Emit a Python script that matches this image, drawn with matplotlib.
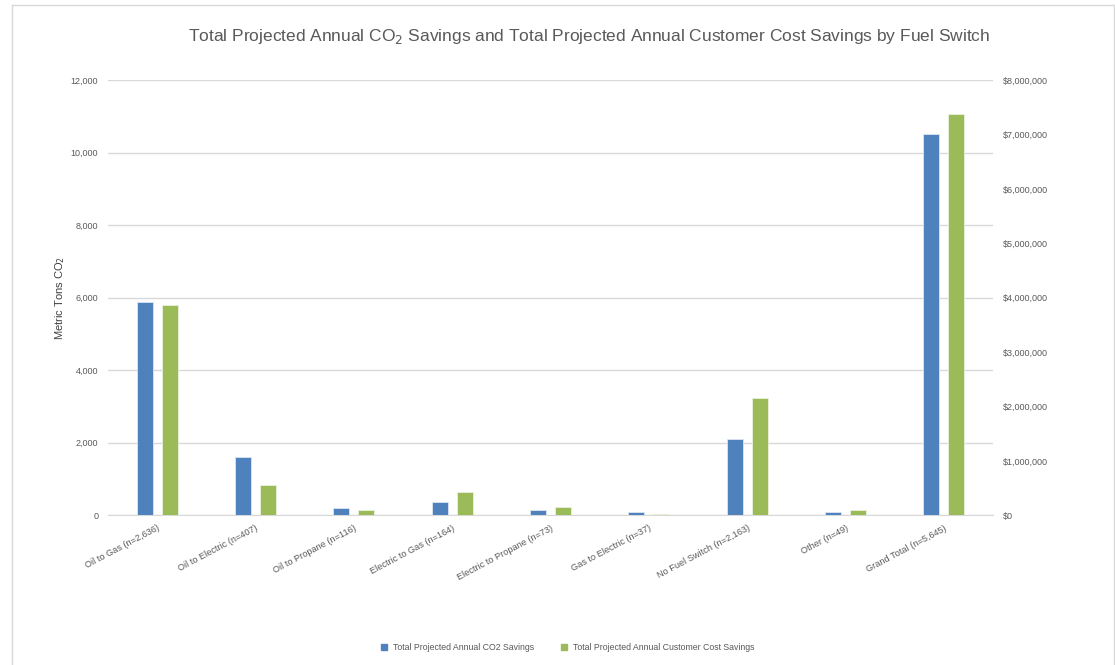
import numpy as np
import matplotlib.pyplot as plt
from matplotlib.lines import Line2D
from matplotlib.ticker import FuncFormatter

categories = [
    "Oil to Gas (n=2,636)",
    "Oil to Electric (n=407)",
    "Oil to Propane (n=116)",
    "Electric to Gas (n=164)",
    "Electric to Propane (n=73)",
    "Gas to Electric (n=37)",
    "No Fuel Switch (n=2,163)",
    "Other (n=49)",
    "Grand Total (n=5,645)",
]
co2_savings = [5880, 1610, 193, 374, 138, 99, 2090, 83, 10500]
cost_savings = [3870000, 562000, 92000, 422000, 147000, 30000, 2154000, 92000, 7383000]

BLUE = "#4F81BD"
GREEN = "#9BBB59"
GRID = "#D9D9D9"
TEXT = "#595959"
FONT = ["Liberation Sans", "DejaVu Sans"]

plt.rcParams["font.family"] = FONT

fig = plt.figure(figsize=(11.15, 6.65), dpi=100)
ax = fig.add_axes([108 / 1115, 1 - 515.3 / 665, 885 / 1115, 435.3 / 665])
ax2 = ax.twinx()

x = np.arange(len(categories))
w = 0.165
off = 0.127
ax.bar(x - off, co2_savings, width=w, color=BLUE, edgecolor="#DCE6F2",
       linewidth=0.6, zorder=3, label="Total Projected Annual CO2 Savings")
ax2.bar(x + off, cost_savings, width=w, color=GREEN, edgecolor="#EBF1DE",
        linewidth=0.6, zorder=3, label="Total Projected Annual Customer Cost Savings")

ax.set_xlim(-0.5, len(categories) - 0.5)
ax.set_ylim(0, 12000)
ax.set_yticks(np.arange(0, 12001, 2000))
ax.yaxis.set_major_formatter(FuncFormatter(lambda v, p: f"{v:,.0f}"))
ax2.set_ylim(0, 8000000)
ax2.set_yticks(np.arange(0, 8000001, 1000000))
ax2.yaxis.set_major_formatter(FuncFormatter(lambda v, p: f"${v:,.0f}"))

ax.grid(axis="y", color=GRID, linewidth=1.0, zorder=0)
ax.set_axisbelow(True)
for a in (ax, ax2):
    for s in a.spines.values():
        s.set_visible(False)
    a.tick_params(length=0, labelsize=6.5, labelcolor=TEXT)
ax.spines["bottom"].set_visible(True)
ax.spines["bottom"].set_color(GRID)
ax.tick_params(axis="y", pad=7)
ax2.tick_params(axis="y", pad=7)

ax.set_xticks(x)
ax.set_xticklabels(categories, rotation=28, ha="right", rotation_mode="anchor",
                   fontsize=6.6, color=TEXT)
ax.tick_params(axis="x", pad=6)

ax.set_ylabel("Metric Tons CO$_2$", fontsize=8, color="#404040", labelpad=3)

fig.text(0.528, 1 - 36 / 665,
         "Total Projected Annual CO$_2$ Savings and Total Projected Annual Customer Cost Savings by Fuel Switch",
         ha="center", va="center", fontsize=12.5, color="#595959")

handles = [
    Line2D([], [], marker="s", linestyle="none", color=BLUE, markersize=5),
    Line2D([], [], marker="s", linestyle="none", color=GREEN, markersize=5),
]
fig.legend(handles, ["Total Projected Annual CO2 Savings", "Total Projected Annual Customer Cost Savings"],
           loc="center", bbox_to_anchor=(565 / 1115, 1 - 648 / 665), ncol=2, frameon=False,
           fontsize=6.3, labelcolor=TEXT, handletextpad=0.0, columnspacing=2.4)

# light frame around the chart area
fig.add_artist(Line2D([11.5 / 1115, 11.5 / 1115], [0, 1 - 4.5 / 665], color=GRID, lw=1))
fig.add_artist(Line2D([11.5 / 1115, 1114 / 1115], [1 - 4.5 / 665, 1 - 4.5 / 665], color=GRID, lw=1))
fig.add_artist(Line2D([1114 / 1115, 1114 / 1115], [0, 1 - 4.5 / 665], color=GRID, lw=1))

fig.savefig("out.png", dpi=100)
